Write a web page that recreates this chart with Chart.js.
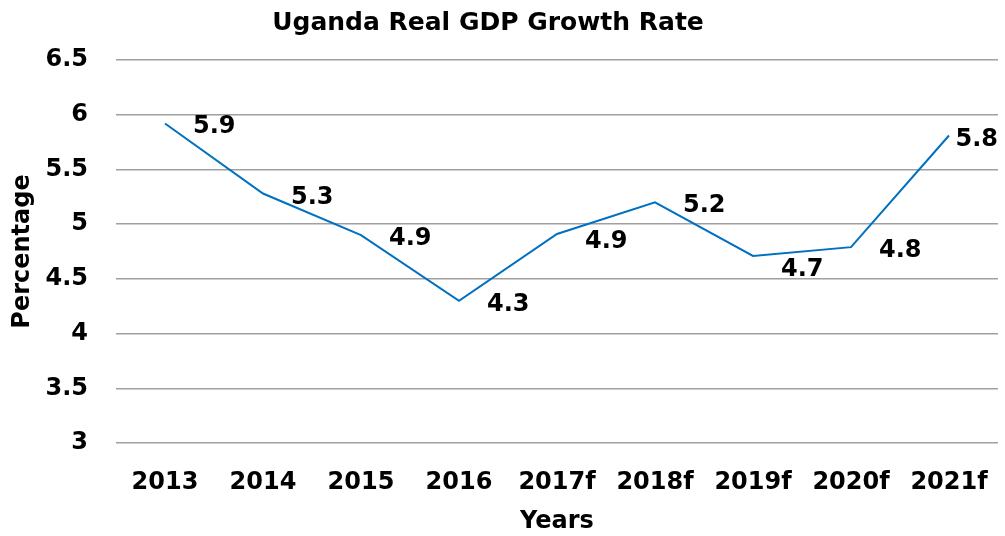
<!DOCTYPE html>
<html>
<head>
<meta charset="utf-8">
<script src="https://cdn.jsdelivr.net/npm/chart.js@4/dist/chart.umd.min.js"></script>
<style>
  html, body { margin: 0; padding: 0; background: #fff; }
  #wrap { width: 1005px; height: 536px; }
</style>
</head>
<body>
<div id="wrap"><canvas id="c" width="1005" height="536"></canvas></div>
<script>
const chartTitle = 'Uganda Real GDP Growth Rate';
const categories = ['2013', '2014', '2015', '2016', '2017f', '2018f', '2019f', '2020f', '2021f'];
const growthValues = [5.92, 5.28, 4.90, 4.30, 4.91, 5.20, 4.71, 4.79, 5.81];
const yTicks = [3, 3.5, 4, 4.5, 5, 5.5, 6, 6.5];
const xAxisTitle = 'Years';
const yAxisTitle = 'Percentage';

const FONT = '"DejaVu Sans", sans-serif';

const labelPlugin = {
  id: 'labels',
  afterDatasetsDraw(chart) {
    const ctx = chart.ctx;
    const pts = chart.getDatasetMeta(0).data;
    const area = chart.chartArea;
    ctx.save();
    ctx.font = 'bold 24px ' + FONT;
    ctx.fillStyle = '#000';
    ctx.textAlign = 'left';
    ctx.textBaseline = 'alphabetic';
    const cap = ctx.measureText('5').actualBoundingBoxAscent;
    // y of the polyline at pixel x
    const lineY = (x) => {
      for (let k = 0; k < pts.length - 1; k++) {
        const a = pts[k], b = pts[k + 1];
        if (x >= a.x && x <= b.x) return a.y + (b.y - a.y) * (x - a.x) / (b.x - a.x);
      }
      return null;
    };
    pts.forEach((pt, i) => {
      const txt = growthValues[i].toFixed(1);
      const w = ctx.measureText(txt).width;
      let x = pt.x + 28;
      if (x + w > area.right) x = area.right - w;
      let cy = pt.y + 1;
      // keep label clear of the line: push it below if the line crosses its box
      let maxY = -Infinity, hit = false;
      for (let sx = x - 2; sx <= x + w + 2; sx += 1) {
        const ly = lineY(sx);
        if (ly === null) continue;
        if (ly > cy - cap / 2 - 3 && ly < cy + cap / 2 + 3) hit = true;
        maxY = Math.max(maxY, ly);
      }
      if (hit && maxY < cy + cap / 2 + 3) cy = maxY + cap / 2 + 4;
      ctx.fillText(txt, x, cy + cap / 2);
    });
    ctx.restore();
  },
  afterDraw(chart) {
    const ctx = chart.ctx;
    ctx.save();
    ctx.font = 'bold 25px ' + FONT;
    ctx.fillStyle = '#000';
    ctx.textAlign = 'center';
    ctx.textBaseline = 'middle';
    ctx.fillText(chartTitle, 488, 23);
    ctx.restore();
  }
};

new Chart(document.getElementById('c'), {
  type: 'line',
  data: {
    labels: categories,
    datasets: [{
      data: growthValues,
      borderColor: '#0070C0',
      borderWidth: 2,
      pointRadius: 0,
      tension: 0,
      fill: false
    }]
  },
  options: {
    responsive: false,
    animation: false,
    devicePixelRatio: 1,
    layout: { padding: { top: 60, left: 0, right: 7, bottom: 0 } },
    plugins: {
      legend: { display: false },
      title: { display: false },
      tooltip: { enabled: false }
    },
    scales: {
      x: {
        offset: true,
        grid: { display: false, drawTicks: false },
        border: { display: false },
        ticks: { color: '#000', font: { family: FONT, size: 24, weight: 'bold' }, padding: 25, maxRotation: 0, autoSkip: false },
        title: { display: true, text: xAxisTitle, color: '#000', font: { family: FONT, size: 24, weight: 'bold' }, padding: { top: 0, bottom: 0 } },
        afterFit(scale) { scale.height = 93; scale.paddingLeft = 0; scale.paddingRight = 0; }
      },
      y: {
        min: 3,
        max: 6.5,
        afterBuildTicks(scale) { scale.ticks = yTicks.map(v => ({ value: v })); },
        grid: { color: '#a0a0a0', lineWidth: 1.5, drawTicks: false },
        border: { display: false },
        ticks: { color: '#000', font: { family: FONT, size: 24, weight: 'bold' }, padding: 28, callback: v => String(v) },
        title: { display: true, text: yAxisTitle, color: '#000', font: { family: FONT, size: 24, weight: 'bold' }, padding: { top: 8, bottom: 0 } },
        afterFit(scale) { scale.width = 116; }
      }
    }
  },
  plugins: [labelPlugin]
});
</script>
</body>
</html>
